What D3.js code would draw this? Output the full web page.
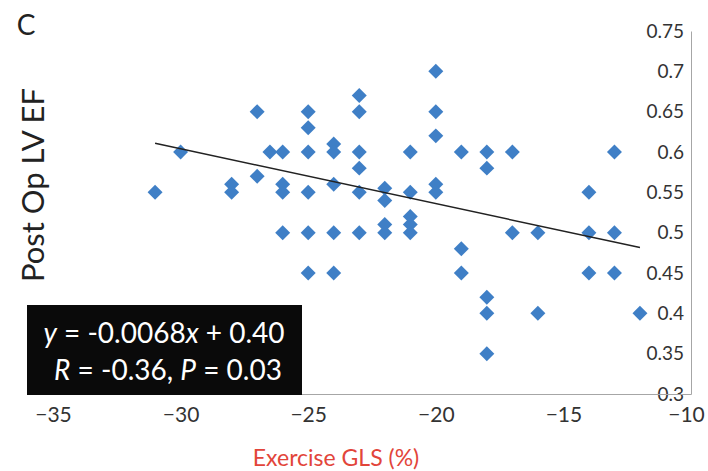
<!DOCTYPE html>
<html>
<head>
<meta charset="utf-8">
<script src="https://cdn.jsdelivr.net/npm/d3@7"></script>
<style>
  html, body { margin: 0; padding: 0; background: #fff; }
  svg { display: block; }
  text { font-family: Lato, "Open Sans", sans-serif; }
</style>
</head>
<body>
<svg id="chart" width="708" height="471"></svg>
<script>
// Exercise GLS (%) and Post Op LV EF, one entry per patient
const gls = [
  -31, -30, -28, -28, -27, -27, -26.5,
  -26, -26, -26, -26,
  -25, -25, -25, -25, -25, -25,
  -24, -24, -24, -24, -24,
  -23, -23, -23, -23, -23, -23,
  -22, -22, -22, -22,
  -21, -21, -21, -21, -21,
  -20, -20, -20, -20, -20,
  -19, -19, -19,
  -18, -18, -18, -18, -18,
  -17, -17, -16, -16,
  -14, -14, -14, -13, -13, -13, -12
];
const ef = [
  0.55, 0.60, 0.56, 0.55, 0.65, 0.57, 0.60,
  0.60, 0.56, 0.55, 0.50,
  0.65, 0.63, 0.60, 0.55, 0.50, 0.45,
  0.61, 0.60, 0.56, 0.50, 0.45,
  0.67, 0.65, 0.60, 0.58, 0.55, 0.50,
  0.555, 0.54, 0.51, 0.50,
  0.60, 0.55, 0.52, 0.51, 0.50,
  0.70, 0.65, 0.62, 0.56, 0.55,
  0.60, 0.48, 0.45,
  0.60, 0.58, 0.42, 0.40, 0.35,
  0.60, 0.50, 0.50, 0.40,
  0.55, 0.50, 0.45, 0.60, 0.50, 0.45, 0.40
];
const xTicks = [-35, -30, -25, -20, -15, -10];
const yTicks = [0.3, 0.35, 0.4, 0.45, 0.5, 0.55, 0.6, 0.65, 0.7, 0.75];
const fitSlope = -0.0068;
const fitIntercept = 0.40;

const svg = d3.select("#chart");
const x = d3.scaleLinear().domain([-35, -10]).range([53, 691]);
const y = d3.scaleLinear().domain([0.3, 0.75]).range([394, 31]);

// right-hand y axis (labels on inner side)
const yAxis = svg.append("g")
  .attr("transform", `translate(${x(-10)},0)`)
  .call(d3.axisLeft(y).tickValues(yTicks).tickSize(0).tickPadding(7)
    .tickFormat(d => String(d)));
yAxis.select(".domain").attr("stroke", "#a6a6a6").attr("stroke-width", 1);
yAxis.selectAll("text").attr("font-size", 19).attr("fill", "#333");

// bottom x axis
const xAxis = svg.append("g")
  .attr("transform", `translate(0,${y(0.3)})`)
  .call(d3.axisBottom(x).tickValues(xTicks).tickSize(0).tickPadding(13)
    .tickFormat(d => d3.format("")(d)));
xAxis.select(".domain").attr("stroke", "#a6a6a6").attr("stroke-width", 1);
xAxis.selectAll("text").attr("font-size", 21).attr("fill", "#333");
xAxis.selectAll(".tick").filter(d => d === -10).select("text").attr("dx", -5);

// points
const pts = gls.map((g, i) => ({ g, e: ef[i] }));
svg.append("g").selectAll("path")
  .data(pts).enter().append("path")
  .attr("d", d3.symbol(d3.symbolSquare, 112)())
  .attr("transform", d => `translate(${x(d.g)},${y(d.e)}) rotate(45)`)
  .attr("fill", "#3f7fc6");

// regression line
const xMin = d3.min(gls), xMax = d3.max(gls);
svg.append("line")
  .attr("x1", x(xMin)).attr("y1", y(fitSlope * xMin + fitIntercept))
  .attr("x2", x(xMax)).attr("y2", y(fitSlope * xMax + fitIntercept))
  .attr("stroke", "#222").attr("stroke-width", 1.5);

// stats box
svg.append("rect")
  .attr("x", 27).attr("y", 305).attr("width", 275).attr("height", 90)
  .attr("fill", "#0a0a0a");
const t1 = svg.append("text").attr("x", 164).attr("y", 343)
  .attr("text-anchor", "middle").attr("font-size", 28).attr("fill", "#fff");
t1.append("tspan").attr("font-style", "italic").text("y");
t1.append("tspan").text(" = -0.0068");
t1.append("tspan").attr("font-style", "italic").text("x");
t1.append("tspan").text(" + 0.40");
const t2 = svg.append("text").attr("x", 168).attr("y", 380)
  .attr("text-anchor", "middle").attr("font-size", 28).attr("fill", "#fff");
t2.append("tspan").attr("font-style", "italic").text("R");
t2.append("tspan").text(" = -0.36, ");
t2.append("tspan").attr("font-style", "italic").text("P");
t2.append("tspan").text(" = 0.03");

// titles
svg.append("text").attr("x", 26).attr("y", 35)
  .attr("text-anchor", "middle").attr("font-size", 28).attr("fill", "#222").text("C");
svg.append("text")
  .attr("transform", "translate(44,185) rotate(-90)")
  .attr("text-anchor", "middle").attr("font-size", 31).attr("fill", "#222")
  .text("Post Op LV EF");
svg.append("text").attr("x", 336).attr("y", 466)
  .attr("text-anchor", "middle").attr("font-size", 23).attr("fill", "#e2453a")
  .text("Exercise GLS (%)");
</script>
</body>
</html>
